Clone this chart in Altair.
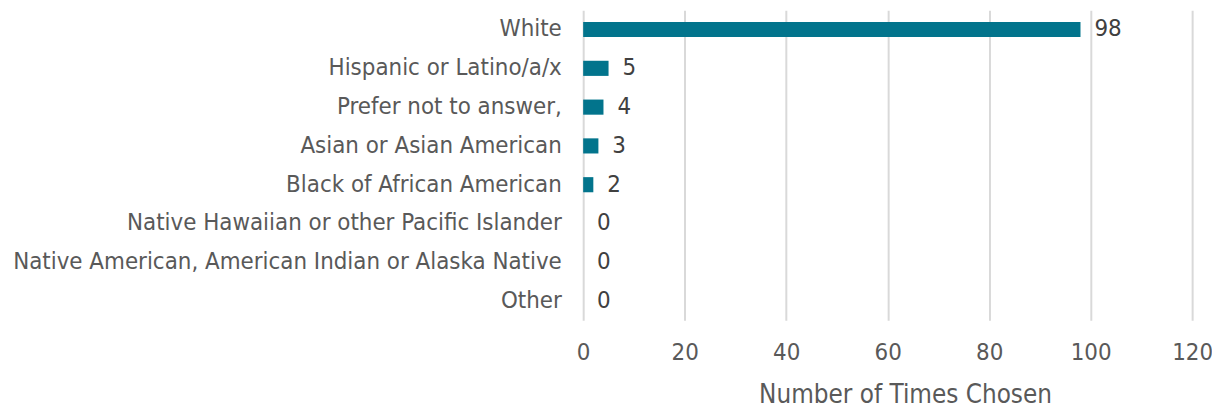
import altair as alt
import pandas as pd

categories = [
    "White",
    "Hispanic or Latino/a/x",
    "Prefer not to answer, ",
    "Asian or Asian American",
    "Black of African American",
    "Native Hawaiian or other Pacific Islander",
    "Native American, American Indian or Alaska Native",
    "Other",
]
counts = [98, 5, 4, 3, 2, 0, 0, 0]
x_ticks = [0, 20, 40, 60, 80, 100, 120]

df = pd.DataFrame({"category": categories, "count": counts})

FONT = "DejaVu Sans Condensed"

y_enc = alt.Y(
    "category:N",
    sort=categories,
    scale=alt.Scale(paddingInner=0.61, paddingOuter=0.3),
    axis=alt.Axis(
        title=None,
        domain=False,
        ticks=False,
        grid=False,
        labelFontSize=24,
        labelColor="#595959",
        labelFont=FONT,
        labelPadding=22,
        labelLimit=800,
    ),
)

x_enc = alt.X(
    "count:Q",
    scale=alt.Scale(domain=[0, 120], nice=False),
    axis=alt.Axis(
        values=x_ticks,
        title="Number of Times Chosen",
        titleFontSize=26,
        titleFontWeight="normal",
        titleColor="#595959",
        titleFont=FONT,
        titleX=324,
        titleY=75,
        titleAlign="center",
        titleBaseline="middle",
        labelFontSize=24,
        labelColor="#595959",
        labelFont=FONT,
        labelPadding=20,
        labelFlush=False,
        domain=False,
        ticks=False,
        grid=True,
        gridColor="#D9D9D9",
        gridWidth=2,
    ),
)

bars = alt.Chart(df).mark_bar(color="#02748C").encode(x=x_enc, y=y_enc)

labels = alt.Chart(df).mark_text(
    align="left", baseline="middle", dx=14, fontSize=24, color="#404040", font=FONT
).encode(
    x="count:Q",
    y=alt.Y("category:N", sort=categories),
    text="count:Q",
)

chart = (
    (bars + labels)
    .properties(
        width=613,
        height=312,
        background="white",
        autosize=alt.AutoSizeParams(type="none"),
        padding={"left": 579, "top": 1, "right": 20, "bottom": 95},
    )
    .configure_view(stroke=None, strokeWidth=0)
)

chart.save("out.html", embed_options={"renderer": "svg", "actions": False})
